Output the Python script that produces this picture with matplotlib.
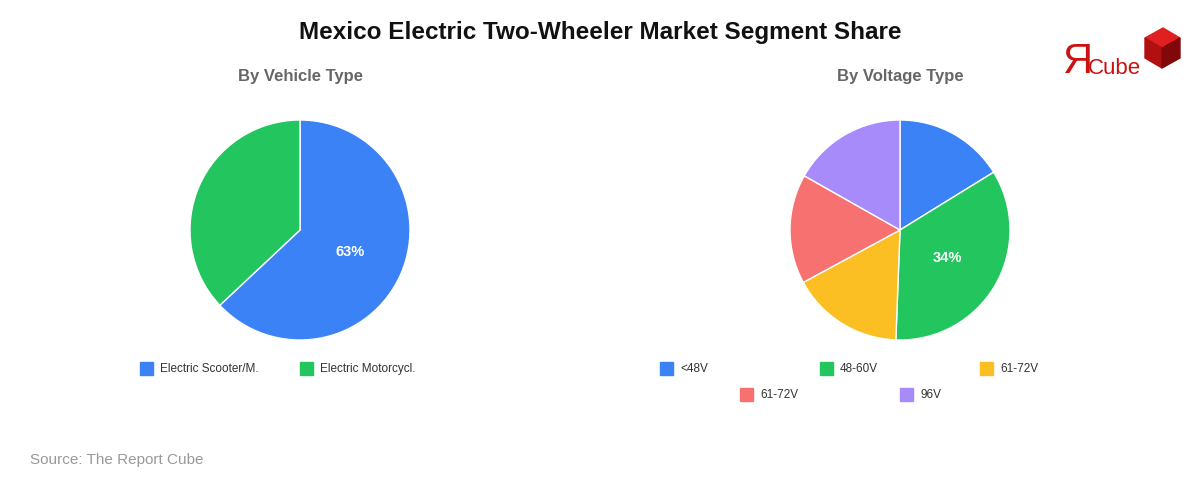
import matplotlib
matplotlib.use("Agg")
import matplotlib.pyplot as plt
from matplotlib.patches import Polygon

vehicle_labels = ["Electric Scooter/M.", "Electric Motorcycl."]
vehicle_values = [63, 37]
vehicle_colors = ["#3b82f6", "#22c55e"]

voltage_labels = ["<48V", "48-60V", "61-72V", "61-72V", "96V"]
voltage_values = [16.2, 34.4, 16.5, 16.1, 16.8]
voltage_colors = ["#3b82f6", "#22c55e", "#fbbf24", "#f87171", "#a78bfa"]

plt.rcParams['font.family'] = ['Liberation Sans', 'DejaVu Sans']
fig = plt.figure(figsize=(12, 4.8), dpi=100)
fig.patch.set_facecolor("white")

def draw(ax, vals, cols):
    mx = max(vals)
    ax.pie(vals, colors=cols, startangle=90, counterclock=False,
           wedgeprops=dict(edgecolor="white", linewidth=1),
           autopct=lambda p: f"{p:.0f}%" if p >= mx / sum(vals) * 100 - 0.5 else "",
           pctdistance=0.5, textprops=dict(color="white", fontsize=10.5, fontweight="bold"))
    ax.set_xlim(-1.0, 1.0)
    ax.set_ylim(-1.0, 1.0)
    ax.set_aspect("equal")

r = 110
ax1 = fig.add_axes([(300 - r) / 1200, (480 - 230 - r) / 480, 2 * r / 1200, 2 * r / 480])
draw(ax1, vehicle_values, vehicle_colors)
ax2 = fig.add_axes([(900 - r) / 1200, (480 - 230 - r) / 480, 2 * r / 1200, 2 * r / 480])
draw(ax2, voltage_values, voltage_colors)

fig.text(0.5, 1 - 33 / 480, "Mexico Electric Two-Wheeler Market Segment Share",
         ha="center", va="center", fontsize=17.5, fontweight="bold", color="#111111")
fig.text(300 / 1200, 1 - 77 / 480, "By Vehicle Type", ha="center", va="center",
         fontsize=12, fontweight="bold", color="#666666")
fig.text(900 / 1200, 1 - 77 / 480, "By Voltage Type", ha="center", va="center",
         fontsize=12, fontweight="bold", color="#666666")
fig.text(30 / 1200, 1 - 460 / 480, "Source: The Report Cube", ha="left", va="center",
         fontsize=11, color="#999999")

def legend_item(x, y, label, color):
    fig.patches.append(plt.Rectangle(((x) / 1200, 1 - (y + 6) / 480), 13 / 1200, 13 / 480,
                                     transform=fig.transFigure, color=color))
    fig.text((x + 20) / 1200, 1 - y / 480, label, ha="left", va="center", fontsize=8.5, color="#333333")

for (x, y), lab, c in zip([(140, 369), (300, 369)], vehicle_labels, vehicle_colors):
    legend_item(x, y, lab, c)
for (x, y), lab, c in zip([(660, 369), (820, 369), (980, 369), (740, 395), (900, 395)],
                          voltage_labels, voltage_colors):
    legend_item(x, y, lab, c)

# logo
fig.text(1062 / 1200, 1 - 62 / 480, "Я", ha="left", va="center", fontsize=30, color="#cc1111")
fig.text(1088 / 1200, 1 - 68 / 480, "Cube", ha="left", va="center", fontsize=16, color="#cc1111")
def P(pts, c):
    fig.patches.append(Polygon([(x / 1200, 1 - y / 480) for x, y in pts], closed=True,
                               transform=fig.transFigure, color=c))
P([(1145, 38), (1163, 28), (1180, 38), (1162, 48)], "#e02020")
P([(1145, 38), (1162, 48), (1162, 68), (1145, 58)], "#b01010")
P([(1162, 48), (1180, 38), (1180, 58), (1162, 68)], "#800808")

fig.savefig("out.png", dpi=100, facecolor="white")
